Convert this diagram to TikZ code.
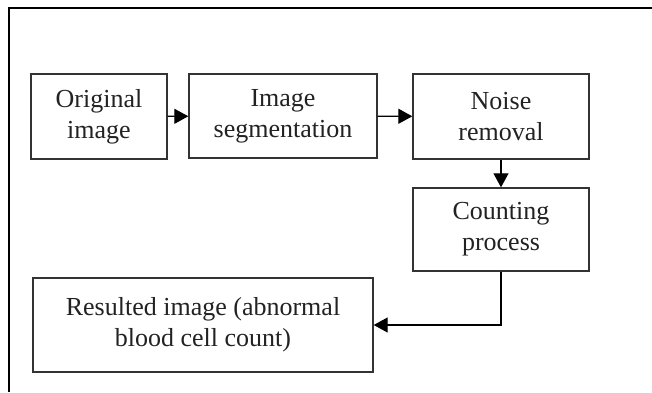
\documentclass[tikz,border=0pt]{standalone}
\usepackage{fontspec}
\setmainfont{Liberation Serif}
\usetikzlibrary{arrows.meta}
\definecolor{boxline}{HTML}{333333}
\definecolor{ink}{HTML}{222222}
\tikzset{
  stage/.style={draw=boxline, line width=1.4pt, inner sep=0pt, align=center,
    text=ink, font=\fontsize{26}{31}\selectfont},
  flow/.style={draw=black, line width=1.3pt,
    -{Triangle[length=14pt, width=15pt]}},
}
\begin{document}
\begin{tikzpicture}[x=1pt, y=-1pt]
  \useasboundingbox (0,0) rectangle (652,392);
  % outer frame (top and left edges)
  \draw[line width=2.8pt] (9,392) -- (9,8) -- (652,8);

  \node[stage, minimum width=136pt, minimum height=85pt] (orig) at (99,116.5) {Original\\image};
  \node[stage, minimum width=188pt, minimum height=84pt] (seg) at (283,116) {Image\\segmentation};
  \node[stage, minimum width=176pt, minimum height=85pt] (noise) at (501,116.5) {Noise\\removal};
  \node[stage, minimum width=176pt, minimum height=83pt] (count) at (501,229.5) {Counting\\process};
  \node[stage, minimum width=340pt, minimum height=94pt] (result) at (203,325) {Resulted image (abnormal\\blood cell count)};

  \draw[flow] (orig) -- (seg);
  \draw[flow] (seg) -- (noise);
  \draw[flow] (noise) -- (count);
  \draw[flow] (count.south) |- (result.east);
\end{tikzpicture}
\end{document}
